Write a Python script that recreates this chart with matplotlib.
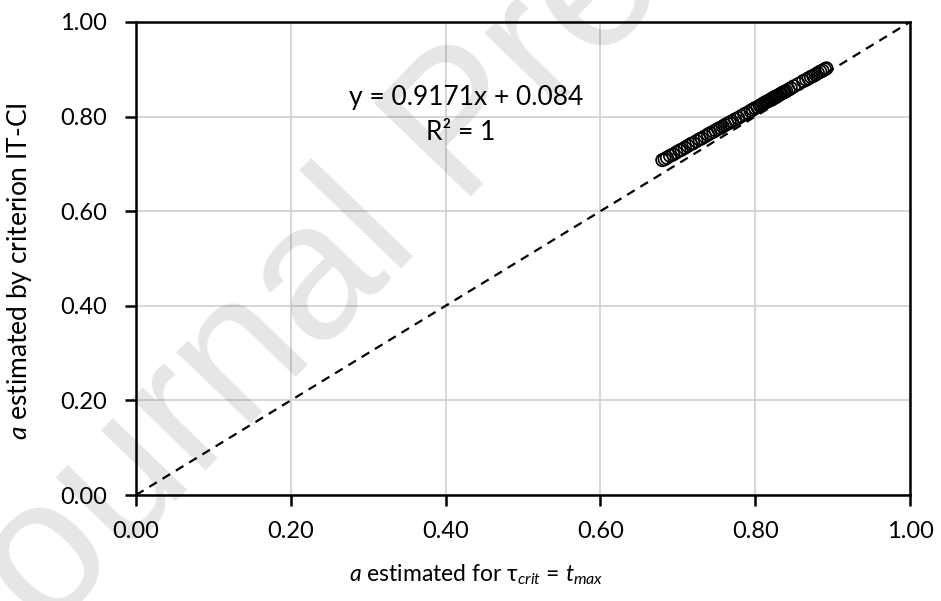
import matplotlib
matplotlib.use("Agg")
import matplotlib.pyplot as plt

plt.rcParams['font.family'] = ['Lato', 'DejaVu Sans']
plt.rcParams['mathtext.fontset'] = 'custom'
plt.rcParams['mathtext.rm'] = 'Lato'
plt.rcParams['mathtext.it'] = 'Lato:italic'

# data: a estimated for tau_crit = t_max (x) vs a estimated by criterion IT-CI (y)
x_vals = [0.680, 0.683, 0.686, 0.690, 0.694, 0.698, 0.702, 0.705, 0.709, 0.713,
          0.717, 0.720, 0.724, 0.728, 0.731, 0.735, 0.739, 0.742, 0.746, 0.749,
          0.752, 0.755, 0.758, 0.761, 0.764, 0.767, 0.770, 0.774, 0.778, 0.782,
          0.786, 0.790, 0.794, 0.797, 0.800, 0.803, 0.806, 0.808, 0.810, 0.812,
          0.814, 0.816, 0.818, 0.820, 0.822, 0.824, 0.826, 0.828, 0.830, 0.832,
          0.834, 0.836, 0.838, 0.840, 0.843, 0.846, 0.850, 0.856, 0.862, 0.866,
          0.869, 0.872, 0.875, 0.878, 0.881, 0.884, 0.887, 0.890, 0.892]
y_vals = [0.708, 0.710, 0.713, 0.717, 0.720, 0.724, 0.728, 0.730, 0.734, 0.738,
          0.742, 0.744, 0.748, 0.752, 0.754, 0.758, 0.762, 0.765, 0.768, 0.771,
          0.774, 0.776, 0.779, 0.782, 0.785, 0.787, 0.790, 0.794, 0.797, 0.801,
          0.805, 0.808, 0.812, 0.815, 0.818, 0.820, 0.823, 0.825, 0.827, 0.829,
          0.831, 0.832, 0.834, 0.836, 0.838, 0.840, 0.842, 0.843, 0.845, 0.847,
          0.849, 0.851, 0.852, 0.854, 0.857, 0.860, 0.864, 0.869, 0.875, 0.878,
          0.881, 0.884, 0.886, 0.889, 0.892, 0.895, 0.897, 0.900, 0.902]
ref_line = [0.0, 1.0]
ticks = [0.0, 0.2, 0.4, 0.6, 0.8, 1.0]
tick_labels = ["0.00", "0.20", "0.40", "0.60", "0.80", "1.00"]
eq_text = "y = 0.9171x + 0.084"
r2_text = "R² = 1"

fig = plt.figure(figsize=(9.41, 6.01), dpi=100)
ax = fig.add_axes([136/941, 1-495/601, 774/941, 473/601])

ax.plot(ref_line, ref_line, linestyle=(0, (4, 3)), color='black', lw=1.6, zorder=2)
ax.scatter(x_vals, y_vals, s=80, facecolors='none', edgecolors='black',
           linewidths=1.2, zorder=3)

ax.set_xlim(0, 1)
ax.set_ylim(0, 1)
ax.set_xticks(ticks)
ax.set_xticklabels(tick_labels)
ax.set_yticks(ticks)
ax.set_yticklabels(tick_labels)
ax.grid(True, color='#d0d0d0', lw=1.2, zorder=0)
ax.set_axisbelow(True)
for s in ax.spines.values():
    s.set_linewidth(1.8)
    s.set_color('black')
ax.tick_params(axis='both', direction='out', length=8, width=1.8,
               labelsize=17, colors='black')
ax.tick_params(axis='x', pad=11)
ax.tick_params(axis='y', pad=13)

ax.text(0.426, 0.841, eq_text, transform=ax.transAxes, ha='center', va='center', fontsize=19)
ax.text(0.419, 0.767, r2_text, transform=ax.transAxes, ha='center', va='center', fontsize=19)

ax.set_xlabel(r"$\it{a}$ estimated for τ$_{\it{crit}}$ = $\it{t}_{\it{max}}$", fontsize=16.5)
ax.xaxis.set_label_coords(0.44, -0.142)
ax.set_ylabel(r"$\it{a}$ estimated by criterion IT-CI", fontsize=19)
ax.yaxis.set_label_coords(-0.132, 0.474)

fig.text(465/941, 1-130/601, "Journal Pre-proof", fontsize=140, color='#000000', alpha=0.10,
         family='Liberation Sans', rotation=46, ha='center', va='center', zorder=10)

fig.savefig("out.png", dpi=100)
